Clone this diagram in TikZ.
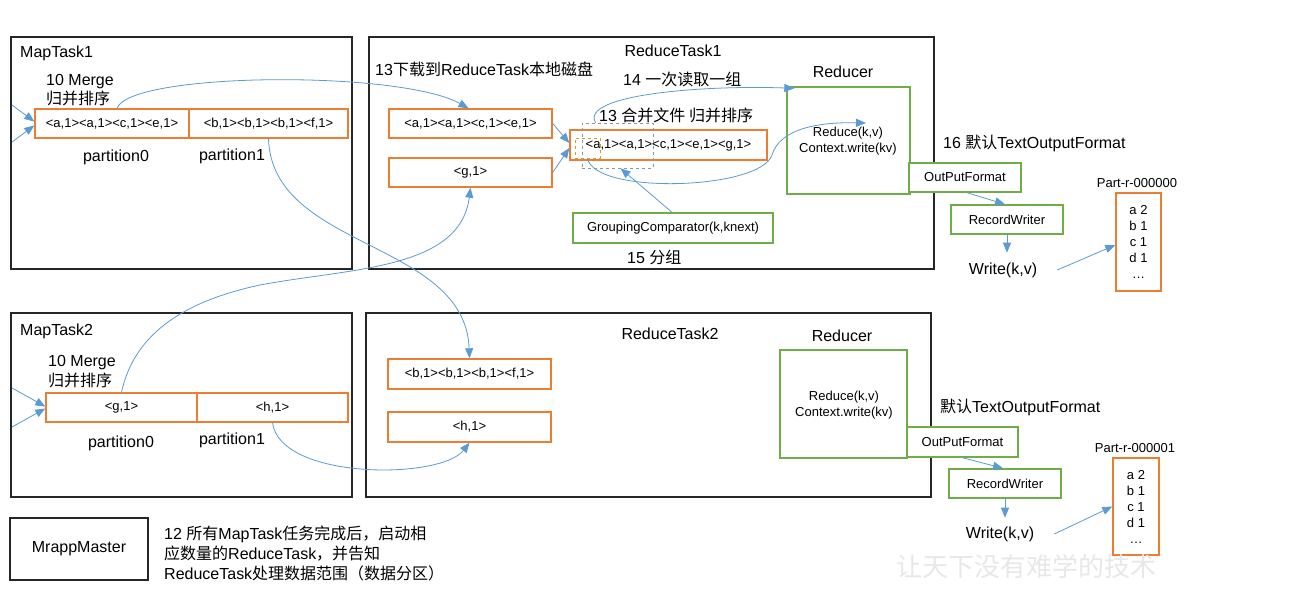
\documentclass[tikz,border=0pt]{standalone}
\usepackage{fontspec}
\setmainfont{Liberation Sans}
\newfontfamily\cjk{Noto Sans CJK SC}
\usetikzlibrary{arrows.meta,calc}
\definecolor{ora}{HTML}{ED7D31}
\definecolor{grn}{HTML}{70AD47}
\definecolor{blu}{HTML}{5B9BD5}
\definecolor{dgr}{HTML}{8497B0}
\definecolor{goldd}{HTML}{C9A227}
\tikzset{
 taskbox/.style={draw=black!85, line width=1.3pt, inner sep=0pt},
 obox/.style={draw=ora, line width=1.4pt, fill=white, inner sep=0pt, font=\fontsize{13}{15}\selectfont},
 gbox/.style={draw=grn, line width=1.4pt, fill=white, inner sep=0pt, font=\fontsize{13}{16}\selectfont, align=center},
 lbl/.style={inner sep=0pt, font=\fontsize{16}{19}\selectfont},
 slbl/.style={inner sep=0pt, font=\fontsize{13}{16}\selectfont, align=center},
 conn/.style={draw=blu, line width=0.8pt},
 arr/.style={conn, -{Triangle[length=10pt,width=8pt]}},
}
\begin{document}
\begin{tikzpicture}[x=1pt,y=-1pt]
\fill[white] (0,0) rectangle (1296,603);
\useasboundingbox (0,0) rectangle (1296,603);

% ---------- MapTask1 ----------
\node[taskbox, minimum width=341pt, minimum height=232pt] (mt1) at (181.5,153) {};
\node[lbl, anchor=base west] (mt1t) at (20,57) {MapTask1};
\node[lbl, anchor=base west] (mt1m) at (46,85) {10 Merge};
\node[lbl, anchor=base west] (mt1s) at (46,104) {\cjk 归并排序};
\node[obox, minimum width=154pt, minimum height=29pt] (mt1p0) at (112,123.5) {<a,1><a,1><c,1><e,1>};
\node[obox, minimum width=159pt, minimum height=29pt] (mt1p1) at (268.5,123.5) {<b,1><b,1><b,1><f,1>};
\node[lbl, anchor=base] (mt1l0) at (116,161) {partition0};
\node[lbl, anchor=base] (mt1l1) at (232,160) {partition1};
\coordinate (in1a) at (12,105);
\coordinate (in1b) at (12,142);

% ---------- ReduceTask1 ----------
\node[taskbox, minimum width=565pt, minimum height=232pt] (rt1) at (651.5,153) {};
\node[lbl, anchor=base] (rt1t) at (673,56) {ReduceTask1};
\node[lbl, anchor=base west] (rt1d) at (375,75) {13{\cjk 下载到}ReduceTask{\cjk 本地磁盘}};
\node[lbl, anchor=base west] (rt1r) at (623,85) {14 {\cjk 一次读取一组}};
\node[lbl, anchor=base west] (rt1h) at (599,121) {13 {\cjk 合并文件 归并排序}};
\node[lbl, anchor=base west] (rt1f) at (627,263) {15 {\cjk 分组}};
\node[obox, minimum width=163pt, minimum height=29pt] (r1a) at (470.5,123.5) {<a,1><a,1><c,1><e,1>};
\node[obox, minimum width=163pt, minimum height=29pt] (r1g) at (470.5,172.5) {<g,1>};
\node[obox, minimum width=197pt, minimum height=30pt] (r1m) at (668.5,145) {<a,1><a,1><c,1><e,1><g,1>};
\node[draw=dgr, dashed, line width=0.7pt, inner sep=0pt, minimum width=71pt, minimum height=45pt] (dg) at (617.5,145.5) {};
\node[draw=goldd, dashed, line width=1pt, inner sep=0pt, minimum width=25pt, minimum height=20pt] (gd) at (587.5,148) {};
\node[gbox, minimum width=200pt, minimum height=30pt] (grp) at (673,228) {GroupingComparator(k,knext)};
\node[lbl, anchor=base] (red1t) at (843,77) {Reducer};
\node[draw=grn, line width=1.4pt, inner sep=0pt, minimum width=123pt, minimum height=107pt] (red1) at (848.5,140.5) {};
\node[slbl] (red1c) at (848,141) {Reduce(k,v)\\Context.write(kv)};
\coordinate (rdin1) at (866,123);
\node[gbox, minimum width=112pt, minimum height=29pt] (of1) at (965,177.5) {OutPutFormat};
\node[lbl, anchor=base west] (tof1) at (943,148) {16 {\cjk 默认}TextOutputFormat};
\node[gbox, minimum width=112pt, minimum height=29pt] (rw1) at (1007,219.5) {RecordWriter};
\node[lbl] (w1) at (1003,270) {Write(k,v)};
\node[slbl] (p1t) at (1137,183) {Part-r-000000};
\node[draw=ora, line width=1.4pt, inner sep=0pt, minimum width=45pt, minimum height=98pt] (part1) at (1138.5,242) {};
\node[slbl] (part1c) at (1138.5,242) {a 2\\b 1\\c 1\\d 1\\…};

% ---------- MapTask2 ----------
\node[taskbox, minimum width=341pt, minimum height=184pt] (mt2) at (181.5,405) {};
\node[lbl, anchor=base west] (mt2t) at (20,335) {MapTask2};
\node[lbl, anchor=base west] (mt2m) at (48,366) {10 Merge};
\node[lbl, anchor=base west] (mt2s) at (48,386) {\cjk 归并排序};
\node[obox, minimum width=151pt, minimum height=29pt] (mt2p0) at (121.5,407.5) {<g,1>};
\node[obox, minimum width=151pt, minimum height=29pt] (mt2p1) at (272.5,407.5) {<h,1>};
\node[lbl, anchor=base] (mt2l0) at (121,447) {partition0};
\node[lbl, anchor=base] (mt2l1) at (232,444) {partition1};
\coordinate (in2a) at (12,388);
\coordinate (in2b) at (12,427);

% ---------- ReduceTask2 ----------
\node[taskbox, minimum width=565pt, minimum height=184pt] (rt2) at (648.5,405) {};
\node[lbl, anchor=base] (rt2t) at (670,339) {ReduceTask2};
\node[obox, minimum width=163pt, minimum height=30pt] (r2b) at (469.5,374) {<b,1><b,1><b,1><f,1>};
\node[obox, minimum width=163pt, minimum height=30pt] (r2h) at (469.5,427) {<h,1>};
\node[lbl, anchor=base] (red2t) at (842,341) {Reducer};
\node[draw=grn, line width=1.4pt, inner sep=0pt, minimum width=127pt, minimum height=108pt] (red2) at (843.5,404) {};
\node[slbl] (red2c) at (844,405) {Reduce(k,v)\\Context.write(kv)};
\node[gbox, minimum width=111pt, minimum height=30pt] (of2) at (962.5,442) {OutPutFormat};
\node[lbl, anchor=base west] (tof2) at (940,412) {{\cjk 默认}TextOutputFormat};
\node[gbox, minimum width=112pt, minimum height=29pt] (rw2) at (1005,483.5) {RecordWriter};
\node[lbl] (w2) at (1000,534) {Write(k,v)};
\node[slbl] (p2t) at (1135,448) {Part-r-000001};
\node[draw=ora, line width=1.4pt, inner sep=0pt, minimum width=46pt, minimum height=97pt] (part2) at (1136,506.5) {};
\node[slbl] (part2c) at (1136,507) {a 2\\b 1\\c 1\\d 1\\…};

% ---------- MrappMaster ----------
\node[taskbox, minimum width=138pt, minimum height=62pt, font=\fontsize{16}{19}\selectfont] (mm) at (79,549) {MrappMaster};
\node[lbl, anchor=base west] (n12a) at (164,539) {12 {\cjk 所有}MapTask{\cjk 任务完成后，启动相}};
\node[lbl, anchor=base west] (n12b) at (164,559) {{\cjk 应数量的}ReduceTask{\cjk ，并告知}};
\node[lbl, anchor=base west] (n12c) at (164,579) {ReduceTask{\cjk 处理数据范围（数据分区）}};

% watermark
\node[inner sep=0pt, text=black!9, font=\cjk\fontsize{26}{26}\selectfont] (wm) at (1026,567) {让天下没有难学的技术};

% ---------- connectors ----------
\draw[arr] (in1a) -- ([yshift=2pt]mt1p0.west);
\draw[arr] (in1b) -- ([yshift=-2pt]mt1p0.west);
\draw[arr] (in2a) -- ([yshift=1pt]mt2p0.west);
\draw[arr] (in2b) -- ([yshift=-1pt]mt2p0.west);

\draw[arr] ([xshift=5pt]mt1p0.north) .. controls (130,72) and (400,70) .. ([xshift=-2pt]r1a.north);
\draw[arr] (mt1p1.south) .. controls (272,250) and (465,240) .. (r2b.north);
\draw[arr] (mt2p0.north) .. controls (135,330) and (190,300) .. (260,285) .. controls (350,268) and (460,270) .. (r1g.south);
\draw[arr] (mt2p1.south) .. controls (280,480) and (440,480) .. (r2h.south);

\draw[arr] (r1a.east) -- ([yshift=2pt]r1m.west);
\draw[arr] (r1g.east) -- ([yshift=-3pt]r1m.west);
\draw[arr] ([xshift=-1pt]grp.north) -- ([xshift=3pt]dg.south);
\draw[arr] ([xshift=-22pt]dg.north) .. controls (580,95) and (700,85) .. ([shift={(8pt,-2pt)}]red1.north west);
\draw[arr] (gd.south) .. controls (595,195) and (760,190) .. (772,155) .. controls (780,128) and (820,122) .. (rdin1);

\draw[arr] ([xshift=2pt]of1.south) -- ([xshift=-2pt]rw1.north);
\draw[arr] (rw1.south) -- ++(0,18);
\draw[arr] ([xshift=20pt]w1.east) -- ([yshift=-3pt]part1.west);

\draw[arr] (of2.south) -- ([xshift=-2pt]rw2.north);
\draw[arr] (rw2.south) -- ++(0,19);
\draw[arr] ([xshift=20pt]w2.east) -- (part2.west);
\end{tikzpicture}
\end{document}
